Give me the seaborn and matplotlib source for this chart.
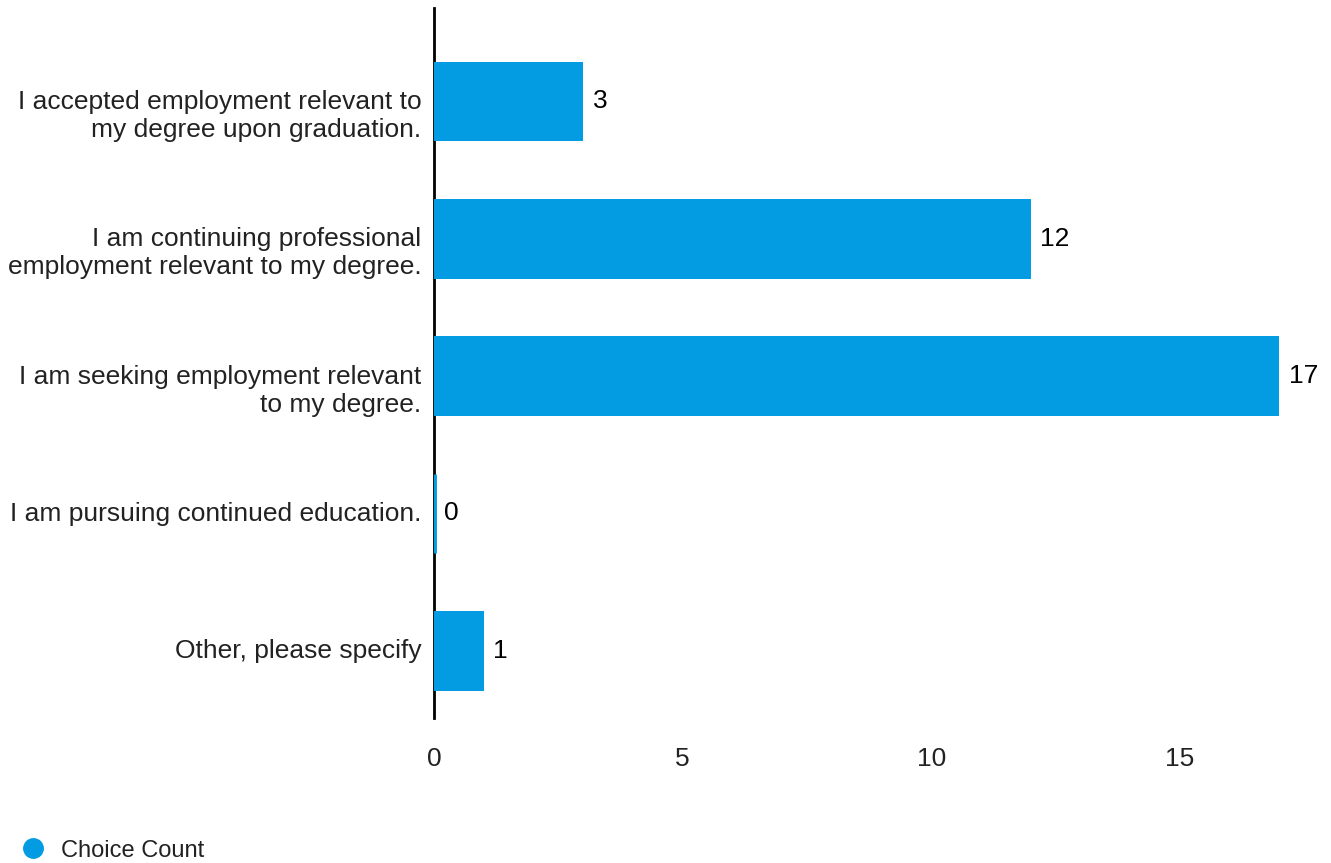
import matplotlib
matplotlib.use("Agg")
import matplotlib.pyplot as plt
from matplotlib.lines import Line2D
from matplotlib.transforms import ScaledTranslation
import seaborn as sns
import pandas as pd

categories = [
    "I accepted employment relevant to\nmy degree upon graduation.",
    "I am continuing professional\nemployment relevant to my degree.",
    "I am seeking employment relevant\nto my degree.",
    "I am pursuing continued education.",
    "Other, please specify",
]
counts = [3, 12, 17, 0, 1]
x_ticks = [0, 5, 10, 15]
series_name = "Choice Count"

BAR_COLOR = "#039BE2"
FS = 19

sns.set_theme(style="white")
plt.rcParams["font.family"] = ["Liberation Sans", "DejaVu Sans"]

df = pd.DataFrame({"category": categories, "count": counts})

fig = plt.figure(figsize=(13.31, 8.63), dpi=100)
ax = fig.add_axes([434 / 1331, 1 - 718 / 863, (1324 - 434) / 1331, (718 - 8) / 863])

sns.barplot(data=df, y="category", x="count", orient="h", color=BAR_COLOR,
            saturation=1, width=0.58, ax=ax, zorder=3)
# solid bars without outline; empty bars keep a visible sliver
for p in ax.patches:
    if p.get_width() == 0:
        p.set_edgecolor(BAR_COLOR)
        p.set_linewidth(3.5)
    else:
        p.set_linewidth(0)

ax.set_xlim(0, 17.9)
ax.set_ylim(4.49, -0.68)
ax.set_xticks(x_ticks)
ax.set_xlabel("")
ax.set_ylabel("")

for s in ["top", "right", "bottom"]:
    ax.spines[s].set_visible(False)
ax.spines["left"].set_color("black")
ax.spines["left"].set_linewidth(2)
ax.spines["left"].set_zorder(2)

ax.tick_params(axis="y", length=0, pad=9, labelsize=FS, labelcolor="#222222")
ax.tick_params(axis="x", length=0, pad=21, labelsize=FS, labelcolor="#222222")

# wrapped category names sit slightly below the bar centre
for t in ax.get_yticklabels():
    t.set_linespacing(1.22)
    if "\n" in t.get_text():
        t.set_transform(t.get_transform() + ScaledTranslation(0, -0.10, fig.dpi_scale_trans))
    else:
        t.set_transform(t.get_transform() + ScaledTranslation(0, 0.02, fig.dpi_scale_trans))

ax.bar_label(ax.containers[0], labels=[str(v) for v in counts], padding=7,
             fontsize=FS, color="black")

handle = Line2D([], [], marker="o", linestyle="none", markersize=14,
                markerfacecolor=BAR_COLOR, markeredgecolor=BAR_COLOR)
fig.legend([handle], [series_name], loc="lower left", bbox_to_anchor=(-0.009, -0.023),
           frameon=False, fontsize=17, handletextpad=0.2, labelcolor="#222222")

fig.savefig("out.png", dpi=100)
